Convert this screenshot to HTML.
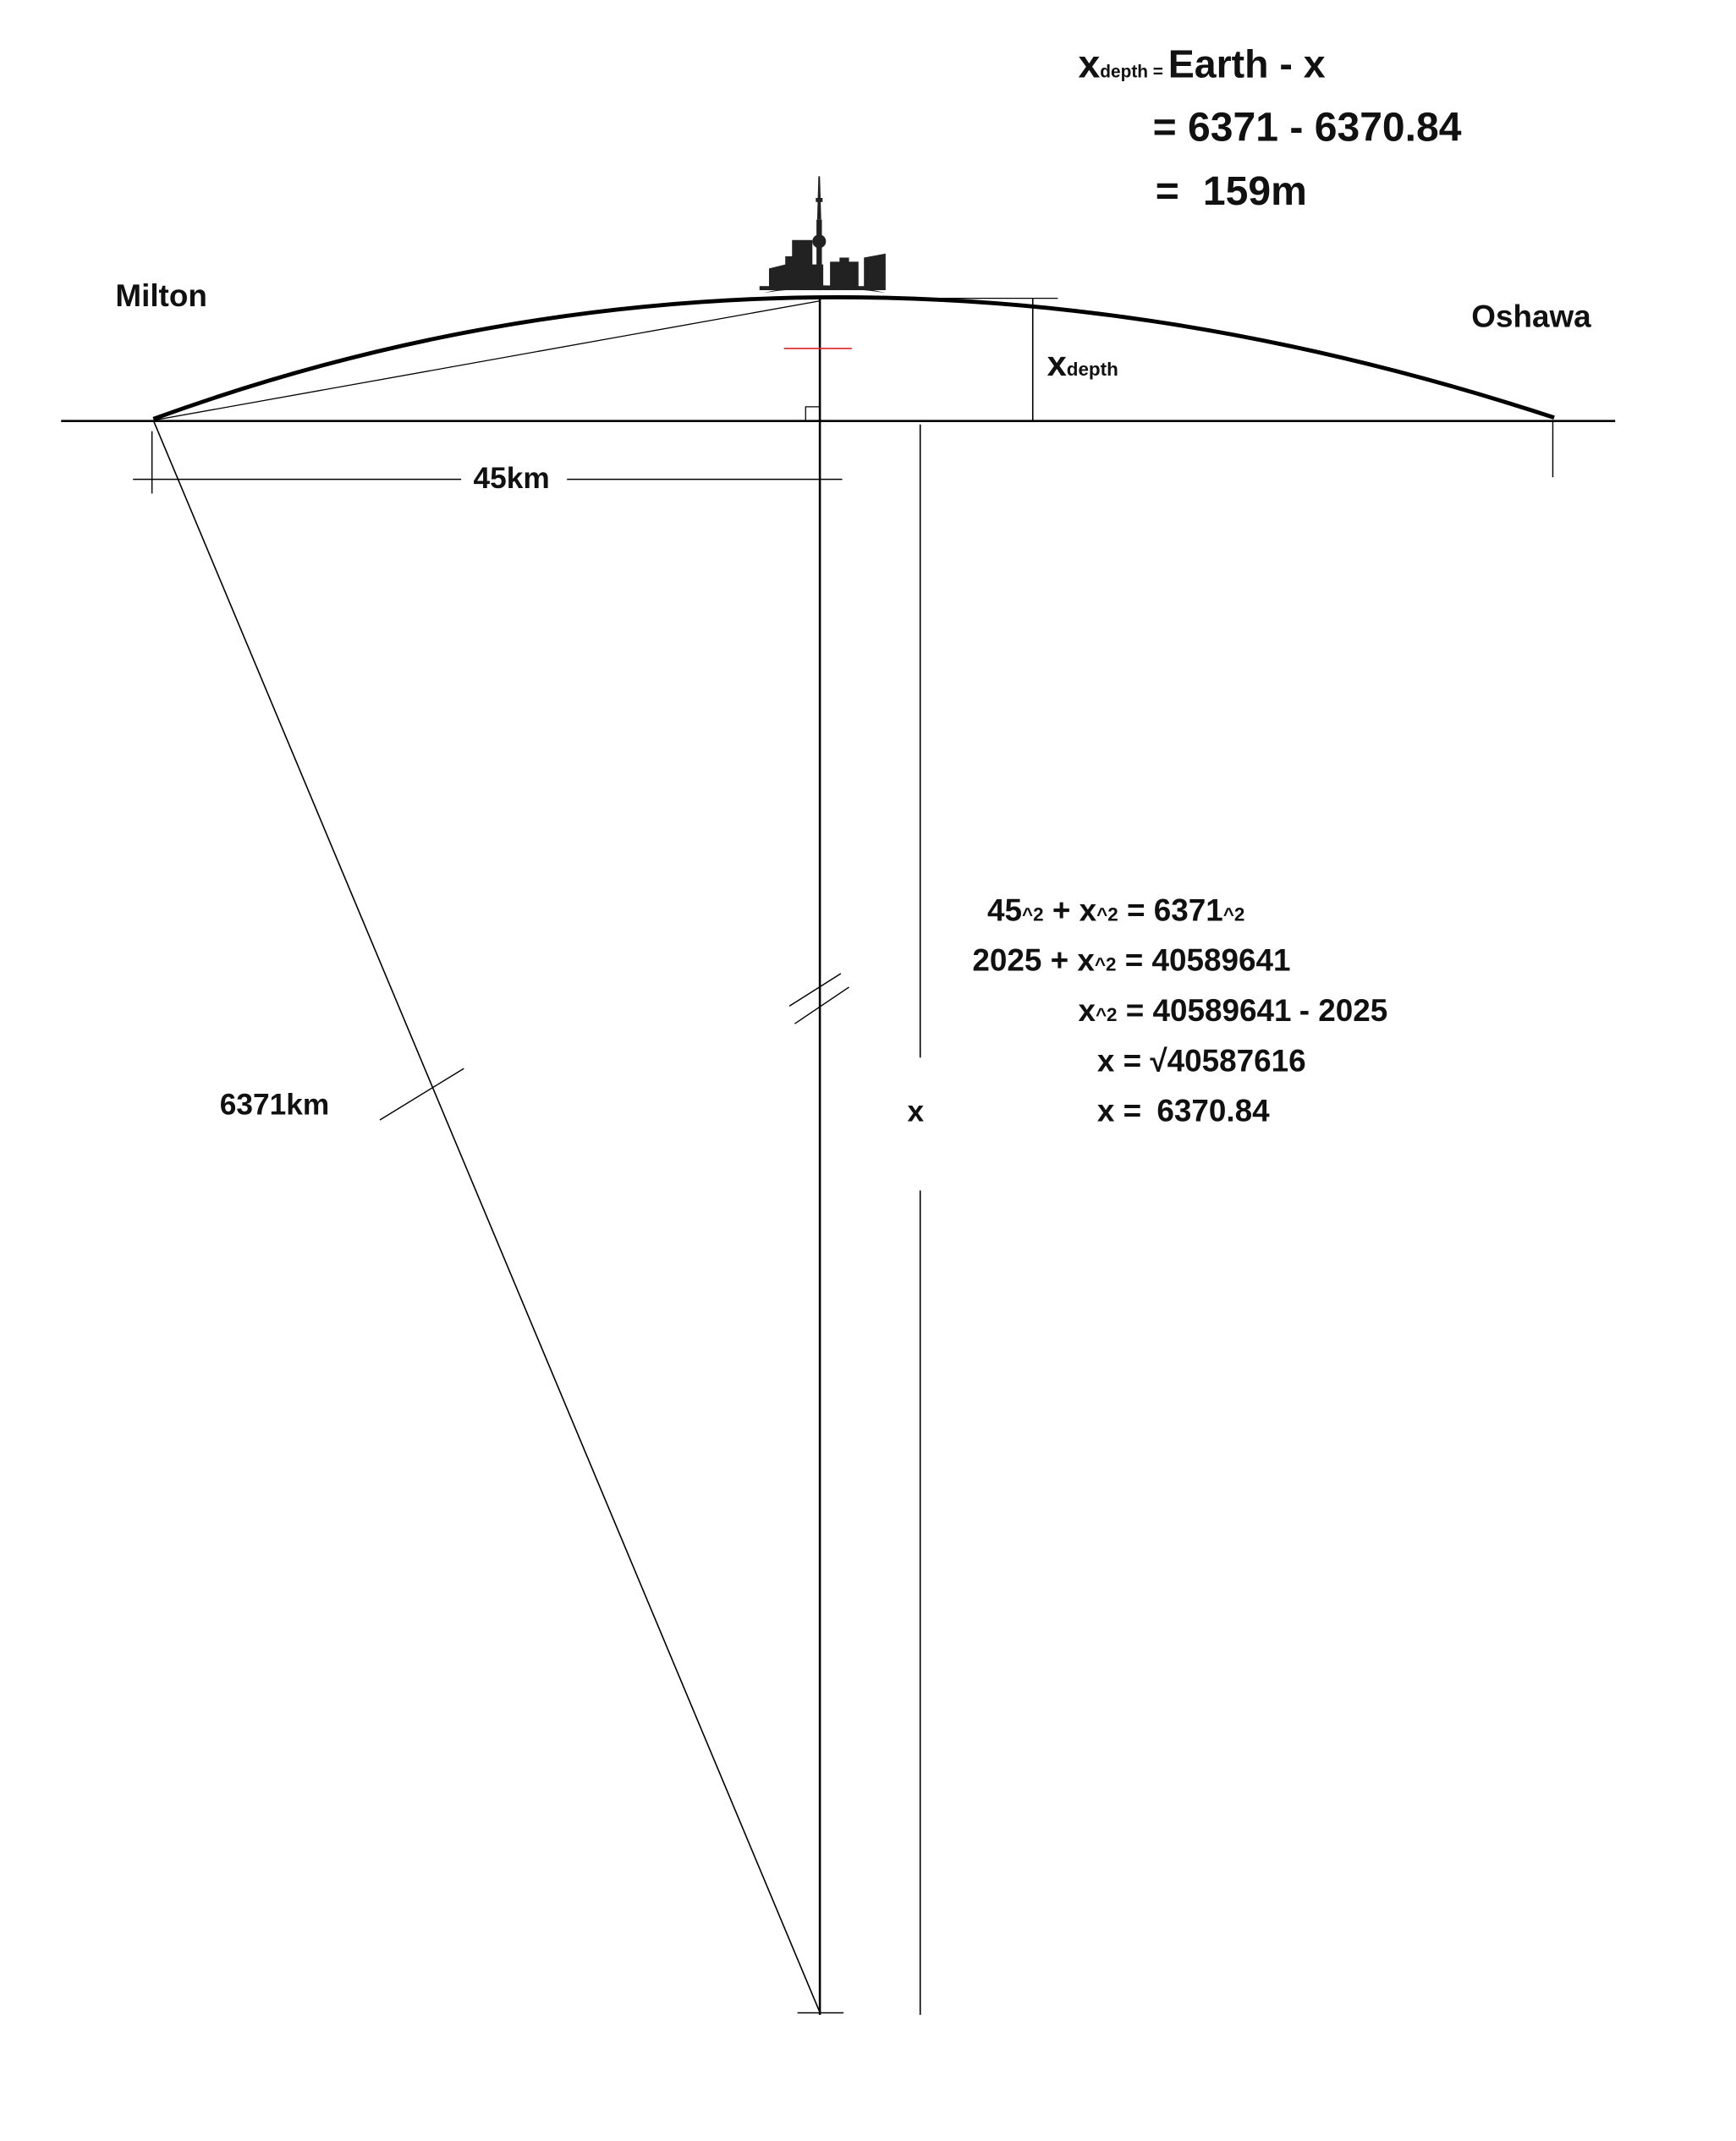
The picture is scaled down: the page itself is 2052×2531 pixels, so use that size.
<!DOCTYPE html>
<html><head><meta charset="utf-8"><style>
html,body{margin:0;padding:0;background:#fff}
svg{display:block}
text{font-family:"Liberation Sans",Arial,sans-serif;font-weight:bold;fill:#111}
</style></head><body>
<svg width="2052" height="2531" viewBox="0 0 1280 1579" xmlns="http://www.w3.org/2000/svg">
<rect width="1280" height="1579" fill="#fff"/>
<line x1="45" y1="310.5" x2="1191" y2="310.5" stroke="#000" stroke-width="1.6"/>
<path d="M113,309 Q604,130 1146,308" fill="none" stroke="#000" stroke-width="3"/>
<line x1="113" y1="310" x2="604" y2="222" stroke="#000" stroke-width="0.8"/>
<line x1="604.5" y1="220" x2="604.5" y2="1486" stroke="#000" stroke-width="1.6"/>
<polyline points="594,310 594,300 604,300" fill="none" stroke="#000" stroke-width="0.8"/>
<line x1="578" y1="257" x2="628" y2="257" stroke="#d22" stroke-width="1"/>
<line x1="604" y1="220" x2="780" y2="220" stroke="#000" stroke-width="0.8"/>
<line x1="761.5" y1="220" x2="761.5" y2="310" stroke="#000" stroke-width="1"/>
<text x="772" y="277" font-size="26">x<tspan font-size="14">depth</tspan></text>
<line x1="98" y1="353.5" x2="340" y2="353.5" stroke="#000" stroke-width="0.9"/>
<line x1="418" y1="353.5" x2="621" y2="353.5" stroke="#000" stroke-width="0.9"/>
<line x1="112" y1="318" x2="112" y2="364" stroke="#000" stroke-width="0.9"/>
<text x="349" y="360" font-size="22">45km</text>
<line x1="1145" y1="310" x2="1145" y2="352" stroke="#000" stroke-width="0.9"/>
<line x1="113" y1="310" x2="604" y2="1483" stroke="#000" stroke-width="1"/>
<line x1="280" y1="826" x2="342" y2="788" stroke="#000" stroke-width="0.9"/>
<text x="162" y="822" font-size="22">6371km</text>
<line x1="582" y1="742" x2="620" y2="718" stroke="#000" stroke-width="0.9"/>
<line x1="586" y1="755" x2="626" y2="728" stroke="#000" stroke-width="0.9"/>
<line x1="588" y1="1484.5" x2="622" y2="1484.5" stroke="#000" stroke-width="0.9"/>
<line x1="678.5" y1="313" x2="678.5" y2="780" stroke="#000" stroke-width="1"/>
<line x1="678.5" y1="878" x2="678.5" y2="1486" stroke="#000" stroke-width="1"/>
<text x="669" y="827" font-size="22">x</text>
<text x="85" y="226" font-size="23">Milton</text>
<text x="1085" y="241" font-size="23">Oshawa</text>
<text x="795" y="57" font-size="29">x<tspan font-size="13">depth = </tspan>Earth - x</text>
<text x="850" y="104" font-size="30">= 6371 - 6370.84</text>
<text x="852" y="151" font-size="30">=<tspan x="887">159m</tspan></text>
<g font-size="23">
<text x="728" y="679">45<tspan font-size="14">^2</tspan> + x<tspan font-size="14">^2</tspan> = 6371<tspan font-size="14">^2</tspan></text>
<text x="717" y="716">2025 + x<tspan font-size="14">^2</tspan> = 40589641</text>
<text x="795" y="753">x<tspan font-size="14">^2</tspan> = 40589641<tspan x="958">- 2025</tspan></text>
<text x="809" y="790">x = √40587616</text>
<text x="809" y="827">x =<tspan x="853">6370.84</tspan></text>
</g>
<g fill="#222">
<path d="M563,216 Q608,205 653,216 Q608,209 563,216Z"/>
<polygon points="567,214 567,198 579,195 579,189 584,189 584,177 599,177 599,195 607,195 607,214"/>
<rect x="602" y="162" width="4" height="52"/>
<circle cx="604" cy="178" r="5"/>
<polygon points="603.4,130 604.6,130 605.5,162 602.5,162"/>
<rect x="601.5" y="146" width="5" height="3"/>
<polygon points="612,214 612,193 619,193 619,190 626,190 626,193 633,193 633,214"/>
<polygon points="637,214 637,190 653,187 653,214"/>
<rect x="560" y="211" width="92" height="3"/>
</g>
</svg>
</body></html>
